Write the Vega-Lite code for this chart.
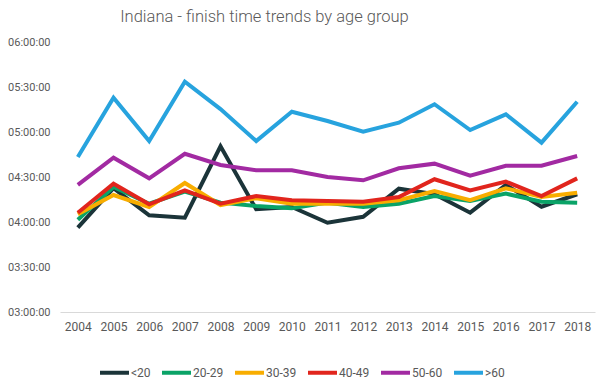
{
  "$schema": "https://vega.github.io/schema/vega-lite/v6.json",
  "width": 535,
  "height": 270,
  "autosize": {"type": "none"},
  "padding": {"left": 60, "top": 42, "right": 5, "bottom": 69},
  "background": "white",
  "title": {
    "text": "Indiana - finish time trends by age group",
    "anchor": "middle",
    "dx": -63,
    "offset": 11,
    "baseline": "top",
    "font": "Roboto",
    "fontWeight": 300,
    "fontSize": 16.5,
    "color": "#595959"
  },
  "config": {
    "view": {"stroke": null},
    "font": "Roboto"
  },
  "data": {
    "format": {"parse": {"finish": "utc:'%H:%M:%S'"}},
    "values": [
      {"year": "2004", "group": "<20", "finish": "03:56:12"},
      {"year": "2005", "group": "<20", "finish": "04:22:30"},
      {"year": "2006", "group": "<20", "finish": "04:04:30"},
      {"year": "2007", "group": "<20", "finish": "04:02:54"},
      {"year": "2008", "group": "<20", "finish": "04:50:30"},
      {"year": "2009", "group": "<20", "finish": "04:08:30"},
      {"year": "2010", "group": "<20", "finish": "04:10:00"},
      {"year": "2011", "group": "<20", "finish": "03:59:30"},
      {"year": "2012", "group": "<20", "finish": "04:03:30"},
      {"year": "2013", "group": "<20", "finish": "04:22:12"},
      {"year": "2014", "group": "<20", "finish": "04:18:30"},
      {"year": "2015", "group": "<20", "finish": "04:06:12"},
      {"year": "2016", "group": "<20", "finish": "04:24:42"},
      {"year": "2017", "group": "<20", "finish": "04:10:12"},
      {"year": "2018", "group": "<20", "finish": "04:18:30"},

      {"year": "2004", "group": "20-29", "finish": "04:01:30"},
      {"year": "2005", "group": "20-29", "finish": "04:23:18"},
      {"year": "2006", "group": "20-29", "finish": "04:12:12"},
      {"year": "2007", "group": "20-29", "finish": "04:20:12"},
      {"year": "2008", "group": "20-29", "finish": "04:12:54"},
      {"year": "2009", "group": "20-29", "finish": "04:10:42"},
      {"year": "2010", "group": "20-29", "finish": "04:09:06"},
      {"year": "2011", "group": "20-29", "finish": "04:12:54"},
      {"year": "2012", "group": "20-29", "finish": "04:10:00"},
      {"year": "2013", "group": "20-29", "finish": "04:12:12"},
      {"year": "2014", "group": "20-29", "finish": "04:17:18"},
      {"year": "2015", "group": "20-29", "finish": "04:14:00"},
      {"year": "2016", "group": "20-29", "finish": "04:18:54"},
      {"year": "2017", "group": "20-29", "finish": "04:13:30"},
      {"year": "2018", "group": "20-29", "finish": "04:12:54"},

      {"year": "2004", "group": "30-39", "finish": "04:05:06"},
      {"year": "2005", "group": "30-39", "finish": "04:18:00"},
      {"year": "2006", "group": "30-39", "finish": "04:10:00"},
      {"year": "2007", "group": "30-39", "finish": "04:26:00"},
      {"year": "2008", "group": "30-39", "finish": "04:11:18"},
      {"year": "2009", "group": "30-39", "finish": "04:15:48"},
      {"year": "2010", "group": "30-39", "finish": "04:12:12"},
      {"year": "2011", "group": "30-39", "finish": "04:12:12"},
      {"year": "2012", "group": "30-39", "finish": "04:12:12"},
      {"year": "2013", "group": "30-39", "finish": "04:14:30"},
      {"year": "2014", "group": "30-39", "finish": "04:20:42"},
      {"year": "2015", "group": "30-39", "finish": "04:14:30"},
      {"year": "2016", "group": "30-39", "finish": "04:22:30"},
      {"year": "2017", "group": "30-39", "finish": "04:16:42"},
      {"year": "2018", "group": "30-39", "finish": "04:19:30"},

      {"year": "2004", "group": "40-49", "finish": "04:06:12"},
      {"year": "2005", "group": "40-49", "finish": "04:25:30"},
      {"year": "2006", "group": "40-49", "finish": "04:11:48"},
      {"year": "2007", "group": "40-49", "finish": "04:21:06"},
      {"year": "2008", "group": "40-49", "finish": "04:12:12"},
      {"year": "2009", "group": "40-49", "finish": "04:17:18"},
      {"year": "2010", "group": "40-49", "finish": "04:14:30"},
      {"year": "2011", "group": "40-49", "finish": "04:14:00"},
      {"year": "2012", "group": "40-49", "finish": "04:13:30"},
      {"year": "2013", "group": "40-49", "finish": "04:16:42"},
      {"year": "2014", "group": "40-49", "finish": "04:28:30"},
      {"year": "2015", "group": "40-49", "finish": "04:21:06"},
      {"year": "2016", "group": "40-49", "finish": "04:26:54"},
      {"year": "2017", "group": "40-49", "finish": "04:17:18"},
      {"year": "2018", "group": "40-49", "finish": "04:29:06"},

      {"year": "2004", "group": "50-60", "finish": "04:24:42"},
      {"year": "2005", "group": "50-60", "finish": "04:42:54"},
      {"year": "2006", "group": "50-60", "finish": "04:29:06"},
      {"year": "2007", "group": "50-60", "finish": "04:45:30"},
      {"year": "2008", "group": "50-60", "finish": "04:38:00"},
      {"year": "2009", "group": "50-60", "finish": "04:34:30"},
      {"year": "2010", "group": "50-60", "finish": "04:34:30"},
      {"year": "2011", "group": "50-60", "finish": "04:30:00"},
      {"year": "2012", "group": "50-60", "finish": "04:27:48"},
      {"year": "2013", "group": "50-60", "finish": "04:35:48"},
      {"year": "2014", "group": "50-60", "finish": "04:38:54"},
      {"year": "2015", "group": "50-60", "finish": "04:30:54"},
      {"year": "2016", "group": "50-60", "finish": "04:37:30"},
      {"year": "2017", "group": "50-60", "finish": "04:37:30"},
      {"year": "2018", "group": "50-60", "finish": "04:44:00"},

      {"year": "2004", "group": ">60", "finish": "04:43:18"},
      {"year": "2005", "group": ">60", "finish": "05:22:54"},
      {"year": "2006", "group": ">60", "finish": "04:54:00"},
      {"year": "2007", "group": ">60", "finish": "05:33:30"},
      {"year": "2008", "group": ">60", "finish": "05:15:18"},
      {"year": "2009", "group": ">60", "finish": "04:54:00"},
      {"year": "2010", "group": ">60", "finish": "05:13:30"},
      {"year": "2011", "group": ">60", "finish": "05:07:18"},
      {"year": "2012", "group": ">60", "finish": "05:00:12"},
      {"year": "2013", "group": ">60", "finish": "05:06:12"},
      {"year": "2014", "group": ">60", "finish": "05:18:30"},
      {"year": "2015", "group": ">60", "finish": "05:01:18"},
      {"year": "2016", "group": ">60", "finish": "05:11:48"},
      {"year": "2017", "group": ">60", "finish": "04:52:54"},
      {"year": "2018", "group": ">60", "finish": "05:20:12"}
    ]
  },
  "mark": {"type": "line", "strokeWidth": 4, "strokeJoin": "miter"},
  "encoding": {
    "x": {
      "field": "year",
      "type": "ordinal",
      "scale": {"type": "point", "padding": 0.5},
      "axis": {
        "title": null,
        "labelAngle": 0,
        "ticks": false,
        "domainColor": "#d9d9d9",
        "domainWidth": 1,
        "labelPadding": 9,
        "labelFont": "Roboto",
        "labelFontSize": 12,
        "labelColor": "#595959"
      }
    },
    "y": {
      "field": "finish",
      "type": "temporal",
      "scale": {
        "type": "utc",
        "domain": [
          {"year": 1900, "month": 1, "date": 1, "hours": 3, "utc": true},
          {"year": 1900, "month": 1, "date": 1, "hours": 6, "utc": true}
        ],
        "nice": false
      },
      "axis": {
        "title": null,
        "format": "%H:%M:%S",
        "values": [
          {"year": 1900, "month": 1, "date": 1, "hours": 3, "utc": true},
          {"year": 1900, "month": 1, "date": 1, "hours": 3, "minutes": 30, "utc": true},
          {"year": 1900, "month": 1, "date": 1, "hours": 4, "utc": true},
          {"year": 1900, "month": 1, "date": 1, "hours": 4, "minutes": 30, "utc": true},
          {"year": 1900, "month": 1, "date": 1, "hours": 5, "utc": true},
          {"year": 1900, "month": 1, "date": 1, "hours": 5, "minutes": 30, "utc": true},
          {"year": 1900, "month": 1, "date": 1, "hours": 6, "utc": true}
        ],
        "grid": false,
        "domain": false,
        "ticks": false,
        "labelPadding": 10,
        "labelFont": "Roboto",
        "labelFontSize": 11,
        "labelColor": "#595959"
      }
    },
    "order": {"field": "year", "type": "ordinal"},
    "color": {
      "field": "group",
      "type": "nominal",
      "scale": {
        "domain": ["<20", "20-29", "30-39", "40-49", "50-60", ">60"],
        "range": ["#1b3439", "#0aa367", "#f8ad00", "#e1251d", "#a22aa2", "#27a3de"]
      },
      "legend": {
        "title": null,
        "orient": "none",
        "direction": "horizontal",
        "legendX": 38,
        "legendY": 314,
        "symbolType": "stroke",
        "symbolSize": 841,
        "symbolStrokeWidth": 4,
        "labelOffset": 0,
        "columnPadding": 3,
        "labelFont": "Roboto",
        "labelFontSize": 12,
        "labelColor": "#595959"
      }
    }
  }
}
